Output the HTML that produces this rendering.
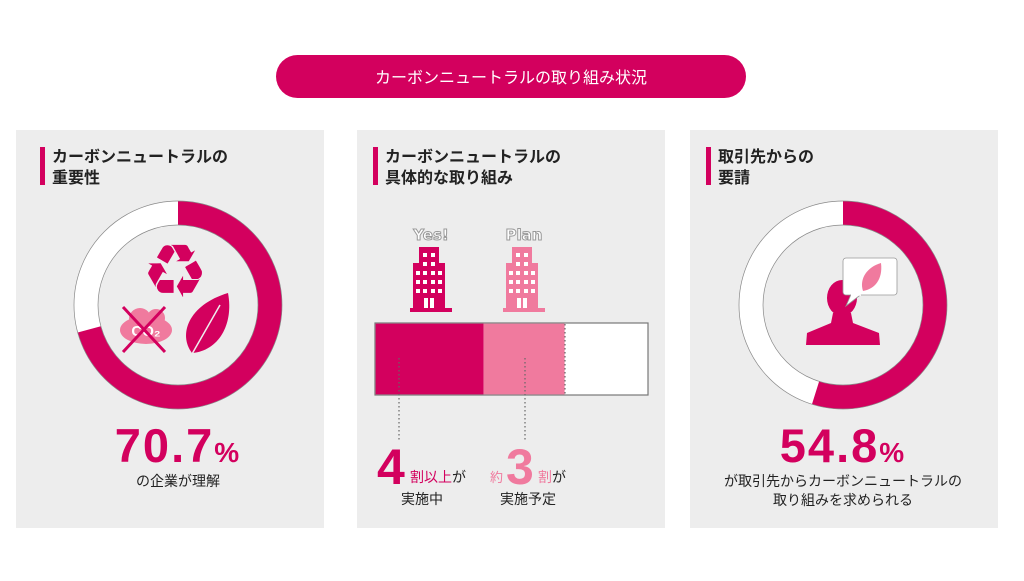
<!DOCTYPE html>
<html><head><meta charset="utf-8"><style>
body{margin:0;background:#fff;width:1024px;height:576px;overflow:hidden;font-family:"Liberation Sans","Noto Sans CJK JP",sans-serif}
</style></head><body>
<svg width="1024" height="576" viewBox="0 0 1024 576" xmlns="http://www.w3.org/2000/svg" font-family="Liberation Sans, Noto Sans CJK JP, sans-serif">
<rect x="276" y="55" width="470" height="43" rx="21.5" fill="#d3005e"/>
<text x="511" y="83" text-anchor="middle" fill="#fff" font-size="16">カーボンニュートラルの取り組み状況</text>

<rect x="16" y="130" width="308" height="398" fill="#ededed"/>
<rect x="357" y="130" width="308" height="398" fill="#ededed"/>
<rect x="690" y="130" width="308" height="398" fill="#ededed"/>

<g font-size="16" font-weight="bold" fill="#222">
<rect x="40" y="147" width="5" height="38" fill="#d3005e"/>
<text x="52" y="162">カーボンニュートラルの</text><text x="52" y="183">重要性</text>
<rect x="373" y="147" width="5" height="38" fill="#d3005e"/>
<text x="385" y="162">カーボンニュートラルの</text><text x="385" y="183">具体的な取り組み</text>
<rect x="706" y="147" width="5" height="38" fill="#d3005e"/>
<text x="718" y="162">取引先からの</text><text x="718" y="183">要請</text>
</g>

<!-- ring 1 -->
<g transform="translate(178,305)">
<circle r="92" fill="none" stroke="#fff" stroke-width="24"/>
<circle r="92" fill="none" stroke="#d3005e" stroke-width="24" stroke-dasharray="408.7 1000" transform="rotate(-90)"/>
<circle r="104" fill="none" stroke="#888" stroke-width="0.7"/>
<circle r="80" fill="none" stroke="#888" stroke-width="0.7"/>
<text x="-3" y="-8" text-anchor="middle" font-family="DejaVu Sans" font-size="74" fill="#d3005e">♻</text>
<g>
<ellipse cx="-32" cy="25" rx="26" ry="14" fill="#f07a9e"/>
<circle cx="-38" cy="14" r="11" fill="#f07a9e"/>
<circle cx="-22" cy="13" r="9" fill="#f07a9e"/>
<text x="-32" y="31" text-anchor="middle" fill="#fff" font-size="15" font-weight="bold">CO₂</text>
<path d="M-55,2 L-13,47 M-13,2 L-55,47" stroke="#d3005e" stroke-width="3"/>
</g>
<path d="M14,48 C0,30 10,0 50,-12 C56,20 40,46 14,48 Z" fill="#d3005e"/>
<path d="M10,56 L42,0" stroke="#eee" stroke-width="1.5"/>
</g>
<text x="178" y="462" text-anchor="middle" font-size="47" font-weight="bold" fill="#d3005e" letter-spacing="2">70.7<tspan font-size="28">%</tspan></text>
<text x="178" y="486" text-anchor="middle" font-size="14" fill="#222">の企業が理解</text>

<!-- middle -->
<g font-size="15" font-weight="bold" fill="#fff" stroke="#999" stroke-width="1" font-family="DejaVu Sans">
<text x="431" y="240" text-anchor="middle">Yes!</text>
<text x="524" y="240" text-anchor="middle">Plan</text>
</g>
<g fill="#d3005e"><rect x="419" y="247" width="20" height="63"/><rect x="413" y="263" width="32" height="47"/><rect x="410" y="308" width="42" height="4"/></g>
<g fill="#f07a9e"><rect x="512" y="247" width="20" height="63"/><rect x="506" y="263" width="32" height="47"/><rect x="503" y="308" width="42" height="4"/></g>
<g fill="#fff" id="win">
<rect x="423" y="253" width="4" height="4"/><rect x="431" y="253" width="4" height="4"/>
<rect x="423" y="262" width="4" height="4"/><rect x="431" y="262" width="4" height="4"/>
<rect x="416" y="271" width="4" height="4"/><rect x="423" y="271" width="4" height="4"/><rect x="431" y="271" width="4" height="4"/><rect x="438" y="271" width="4" height="4"/>
<rect x="416" y="280" width="4" height="4"/><rect x="423" y="280" width="4" height="4"/><rect x="431" y="280" width="4" height="4"/><rect x="438" y="280" width="4" height="4"/>
<rect x="416" y="289" width="4" height="4"/><rect x="423" y="289" width="4" height="4"/><rect x="431" y="289" width="4" height="4"/><rect x="438" y="289" width="4" height="4"/>
<rect x="424" y="298" width="4" height="10"/><rect x="430" y="298" width="4" height="10"/>
</g>
<use href="#win" x="93"/>
<rect x="375" y="323" width="273" height="72" fill="#fff" stroke="#777" stroke-width="1.2"/>
<rect x="375.6" y="323.6" width="108" height="70.8" fill="#d3005e"/>
<rect x="483.6" y="323.6" width="81" height="70.8" fill="#f07a9e"/>
<g stroke="#666" stroke-width="1.2" stroke-dasharray="1.5 2.5">
<line x1="565" y1="324" x2="565" y2="394"/>
<line x1="399" y1="358" x2="399" y2="440"/>
<line x1="525" y1="358" x2="525" y2="440"/>
</g>
<text x="377" y="484" font-size="50" font-weight="bold" fill="#d3005e">4</text>
<text x="410" y="482" font-size="14" fill="#d3005e">割以上<tspan fill="#222">が</tspan></text>
<text x="422" y="504" text-anchor="middle" font-size="14" fill="#222">実施中</text>
<text x="490" y="482" font-size="13" fill="#f07a9e">約</text>
<text x="506" y="484" font-size="50" font-weight="bold" fill="#f07a9e">3</text>
<text x="538" y="482" font-size="14" fill="#f07a9e">割<tspan fill="#222">が</tspan></text>
<text x="528" y="504" text-anchor="middle" font-size="14" fill="#222">実施予定</text>

<!-- ring 3 -->
<g transform="translate(843,305)">
<circle r="92" fill="none" stroke="#fff" stroke-width="24"/>
<circle r="92" fill="none" stroke="#d3005e" stroke-width="24" stroke-dasharray="316.8 1000" transform="rotate(-90)"/>
<circle r="104" fill="none" stroke="#888" stroke-width="0.7"/>
<circle r="80" fill="none" stroke="#888" stroke-width="0.7"/>
<g fill="#d3005e">
<ellipse cx="-1" cy="-7" rx="15" ry="18"/>
<path d="M-10,8 L8,8 L10,18 L36,28 L37,40 L-37,40 L-36,28 L-12,18 Z"/>
</g>
<rect x="0" y="-47" width="54" height="37" rx="3" fill="#fff" stroke="#999" stroke-width="0.8"/>
<path d="M8,-10.5 L3,1 L18,-10.5" fill="#fff" stroke="#999" stroke-width="0.8"/>
<path d="M8,-10 L18,-10" stroke="#fff" stroke-width="1.5"/>
<path d="M20,-14 C16,-26 24,-38 38,-42 C40,-26 32,-16 20,-14 Z" fill="#f07a9e"/>
</g>
<text x="843" y="462" text-anchor="middle" font-size="47" font-weight="bold" fill="#d3005e" letter-spacing="2">54.8<tspan font-size="28">%</tspan></text>
<text x="843" y="486" text-anchor="middle" font-size="14" fill="#222">が取引先からカーボンニュートラルの</text>
<text x="843" y="505" text-anchor="middle" font-size="14" fill="#222">取り組みを求められる</text>
</svg>
</body></html>
